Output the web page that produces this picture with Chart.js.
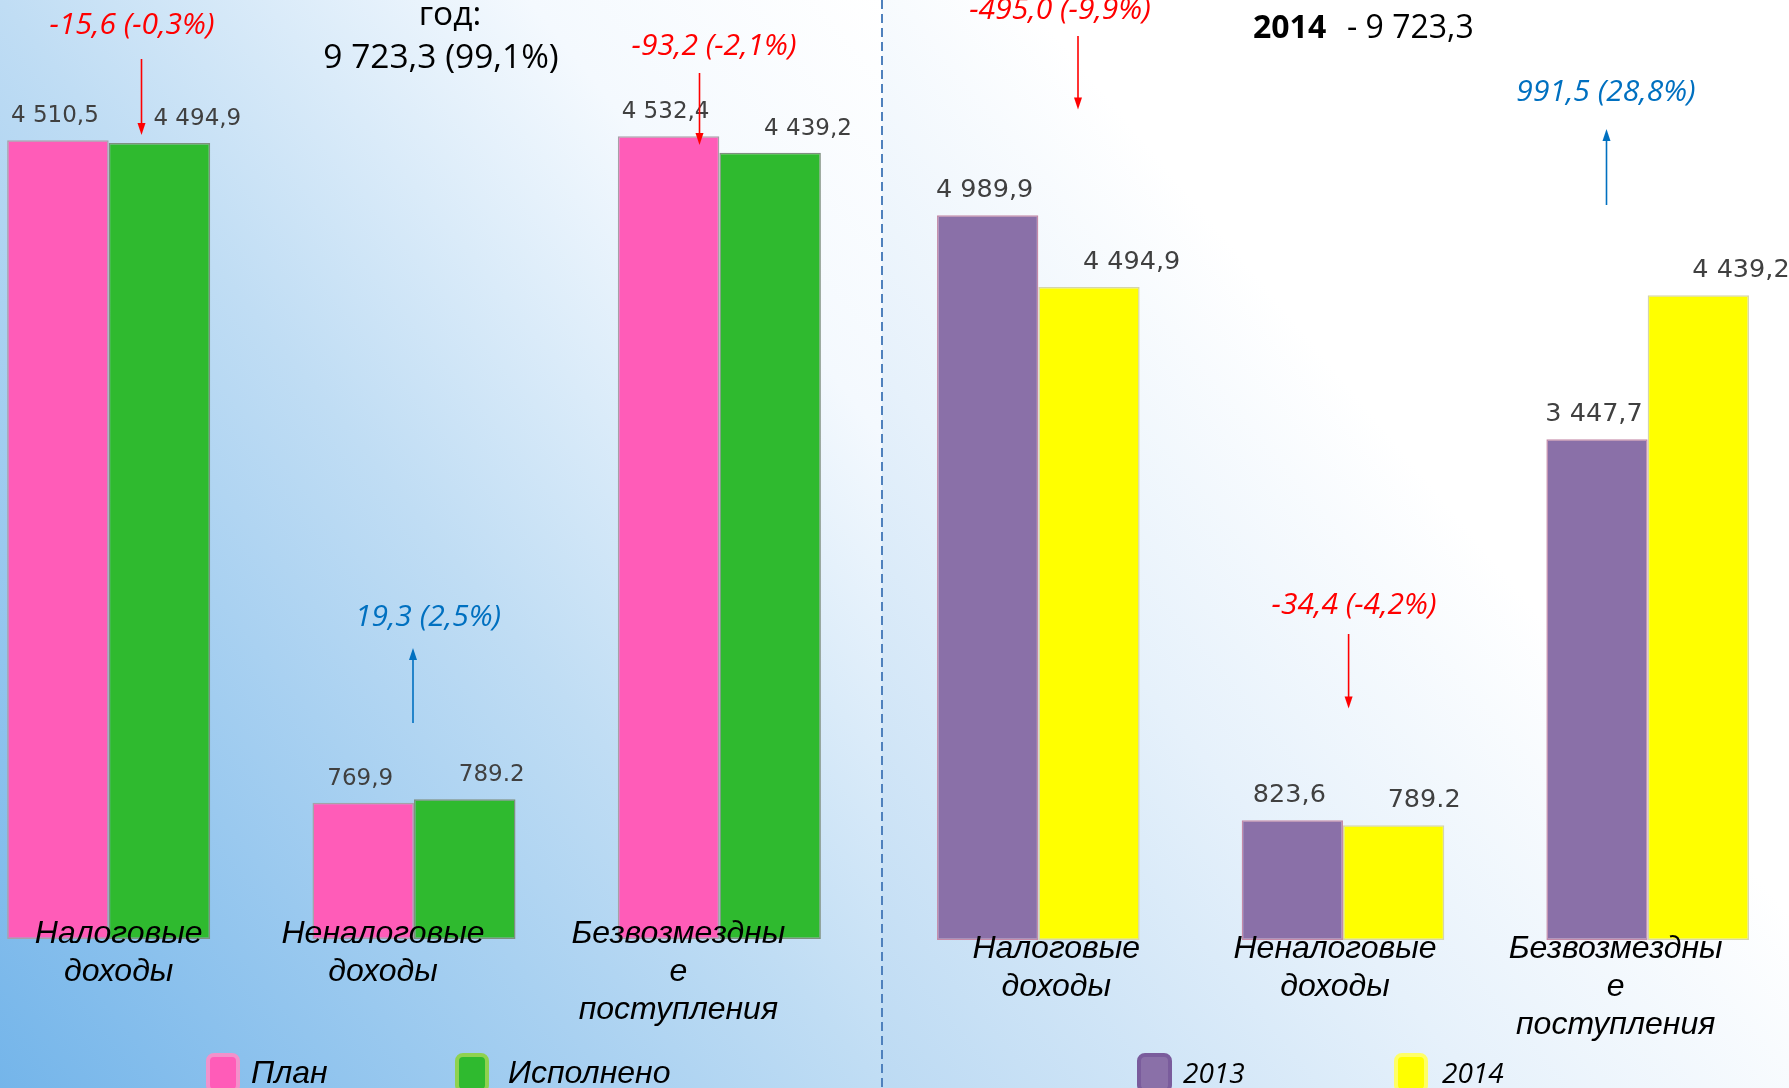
<!DOCTYPE html>
<html>
<head>
<meta charset="utf-8">
<script src="https://cdn.jsdelivr.net/npm/chart.js@4.4.0/dist/chart.umd.min.js"></script>
<style>
	html, body { margin: 0; padding: 0; }
	body { width: 1789px; height: 1088px; position: relative; overflow: hidden; background: #fff; }
	#bgLeft { position: absolute; left: 0; top: 0; width: 882px; height: 1088px;
		background: linear-gradient(to top right, #74b5ea 0%, #c0ddf4 50%, #f4f9fe 80%, #ffffff 100%); }
	#bgRight { position: absolute; left: 882px; top: 0; width: 907px; height: 1088px;
		background: linear-gradient(to top right, #bcdaf3 0%, #e6f1fb 33%, #ffffff 58%, #ffffff 100%); }
	.box { position: absolute; top: 0; height: 1088px; }
	#leftBox { left: -44px; width: 916px; }
	#rightBox { left: 886px; width: 914px; }
	#over { position: absolute; left: 0; top: 0; pointer-events: none; }
</style>
</head>
<body>
<div id="bgLeft"></div>
<div id="bgRight"></div>
<div class="box" id="leftBox"><canvas id="planChart"></canvas></div>
<div class="box" id="rightBox"><canvas id="yearChart"></canvas></div>

<svg id="over" width="1789" height="1088">
	<line x1="882" y1="0" x2="882" y2="1088" stroke="#4f81bd" stroke-width="2" stroke-dasharray="9 5"/>

	<g font-family="Open Sans" font-size="33.5" fill="#000" text-anchor="middle">
		<text x="450" y="25">год:</text>
		<text x="441" y="68">9 723,3 (99,1%)</text>
	</g>
	<text x="1253" y="38" font-family="Open Sans" font-size="32" fill="#000"><tspan font-weight="bold">2014</tspan><tspan x="1347">- 9 723,3</tspan></text>

	<g font-family="Open Sans" font-style="italic" font-size="30" text-anchor="middle">
		<text x="132" y="34" fill="#ff0000">-15,6 (-0,3%)</text>
		<text x="714" y="55" fill="#ff0000">-93,2 (-2,1%)</text>
		<text x="428" y="626" fill="#0070c0">19,3 (2,5%)</text>
		<text x="1060" y="19" fill="#ff0000">-495,0 (-9,9%)</text>
		<text x="1606" y="101" fill="#0070c0">991,5 (28,8%)</text>
		<text x="1354" y="614" fill="#ff0000">-34,4 (-4,2%)</text>
	</g>

	<!-- стрелки -->
	<g stroke-width="1.6">
		<line x1="141.5" y1="59" x2="141.5" y2="125" stroke="#ff0000"/>
		<polygon points="137.5,123 145.5,123 141.5,135" fill="#ff0000"/>
		<line x1="699.5" y1="73" x2="699.5" y2="135" stroke="#ff0000"/>
		<polygon points="695.5,133 703.5,133 699.5,145" fill="#ff0000"/>
		<line x1="413" y1="723" x2="413" y2="658" stroke="#0070c0"/>
		<polygon points="409,660 417,660 413,648" fill="#0070c0"/>
		<line x1="1078" y1="36" x2="1078" y2="100" stroke="#ff0000"/>
		<polygon points="1074,97.5 1082,97.5 1078,109.5" fill="#ff0000"/>
		<line x1="1606.5" y1="205" x2="1606.5" y2="139" stroke="#0070c0"/>
		<polygon points="1602.5,141 1610.5,141 1606.5,129" fill="#0070c0"/>
		<line x1="1348.6" y1="634" x2="1348.6" y2="699" stroke="#ff0000"/>
		<polygon points="1344.6,696.5 1352.6,696.5 1348.6,708.5" fill="#ff0000"/>
	</g>

	<!-- легенда -->
	<rect x="208" y="1055" width="30" height="36" rx="6" fill="#ff5cb8" stroke="#f391cb" stroke-width="4"/>
	<rect x="457" y="1055" width="30" height="36" rx="6" fill="#2fba2f" stroke="#8fd24f" stroke-width="4"/>
	<rect x="1139" y="1055" width="31" height="36" rx="6" fill="#8a70a8" stroke="#7a5c9c" stroke-width="4"/>
	<rect x="1396" y="1055" width="30" height="36" rx="6" fill="#ffff00" stroke="#ffff66" stroke-width="4"/>
	<g font-style="italic" fill="#000">
		<text x="251" y="1083" font-family="Liberation Sans" font-size="32">План</text>
		<text x="508" y="1083" font-family="Liberation Sans" font-size="32">Исполнено</text>
		<text x="1183" y="1083" font-family="Open Sans" font-size="28">2013</text>
		<text x="1442" y="1083" font-family="Open Sans" font-size="28">2014</text>
	</g>
</svg>

<script>
var categories = [['Налоговые', 'доходы'], ['Неналоговые', 'доходы'], ['Безвозмездны', 'е', 'поступления']];

var plan = [4510.5, 769.9, 4532.4];
var done = [4494.9, 789.2, 4439.2];
var planLabels = ['4 510,5', '769,9', '4 532,4'];
var doneLabels = ['4 494,9', '789.2', '4 439,2'];

var y2013 = [4989.9, 823.6, 3447.7];
var y2014 = [4494.9, 789.2, 4439.2];
var y2013Labels = ['4 989,9', '823,6', '3 447,7'];
var y2014Labels = ['4 494,9', '789.2', '4 439,2'];

// подписи над столбцами и подписи категорий
var barText = {
	id: 'barText',
	afterDatasetsDraw: function(chart, args, opts) {
		var ctx = chart.ctx;
		ctx.save();
		ctx.font = opts.size + 'px "DejaVu Sans"';
		ctx.fillStyle = '#404040';
		ctx.textBaseline = 'alphabetic';
		chart.data.datasets.forEach(function(ds, di) {
			var meta = chart.getDatasetMeta(di);
			meta.data.forEach(function(bar, i) {
				if (di == 0) {
					ctx.textAlign = 'center';
					ctx.fillText(ds.texts[i], bar.x - 3, bar.y - 18);
				} else {
					ctx.textAlign = 'left';
					ctx.fillText(ds.texts[i], bar.x - 6, bar.y - 18);
				}
			});
		});

		var xs = chart.scales.x;
		ctx.font = 'italic 32px "Liberation Sans"';
		ctx.fillStyle = '#000';
		ctx.textAlign = 'center';
		chart.data.labels.forEach(function(lines, i) {
			var x = xs.getPixelForValue(i) + opts.shift[i];
			lines.forEach(function(line, k) {
				ctx.fillText(line, x, opts.top + k * 38);
			});
		});
		ctx.restore();
	}
};

function makeChart(id, a, b, aTexts, bTexts, colors, borders, yMax, pad, shift, labelTop, size) {
	var ctx = document.getElementById(id).getContext('2d');
	return new Chart(ctx, {
		type: 'bar',
		data: {
			labels: categories,
			datasets: [
				{
					data: a,
					texts: aTexts,
					backgroundColor: colors[0],
					borderColor: borders[0],
					borderWidth: 1.5,
					borderSkipped: false,
					categoryPercentage: 0.665,
					barPercentage: 1.0
				},
				{
					data: b,
					texts: bTexts,
					backgroundColor: colors[1],
					borderColor: borders[1],
					borderWidth: 1.5,
					borderSkipped: false,
					categoryPercentage: 0.665,
					barPercentage: 1.0
				}
			]
		},
		options: {
			responsive: true,
			maintainAspectRatio: false,
			animation: false,
			layout: { padding: pad },
			plugins: {
				legend: { display: false },
				tooltip: { enabled: false },
				barText: { shift: shift, top: labelTop, size: size }
			},
			scales: {
				x: { display: false },
				y: { display: false, min: 0, max: yMax }
			}
		},
		plugins: [barText]
	});
}

var planChart = makeChart('planChart', plan, done, planLabels, doneLabels,
	['#ff5cb8', '#2fba2f'], ['#a8a0a8', '#7f8f7f'], 5000,
	{ top: 53.5, bottom: 149, left: 0, right: 0 }, [10, -31, -41], 943, 23);

var yearChart = makeChart('yearChart', y2013, y2014, y2013Labels, y2014Labels,
	['#8a70a8', '#ffff00'], ['#c48aa8', '#d6d6a8'], 6000,
	{ top: 68.5, bottom: 148, left: 0, right: 0 }, [18, -8, -32], 958, 25.5);
</script>
</body>
</html>
